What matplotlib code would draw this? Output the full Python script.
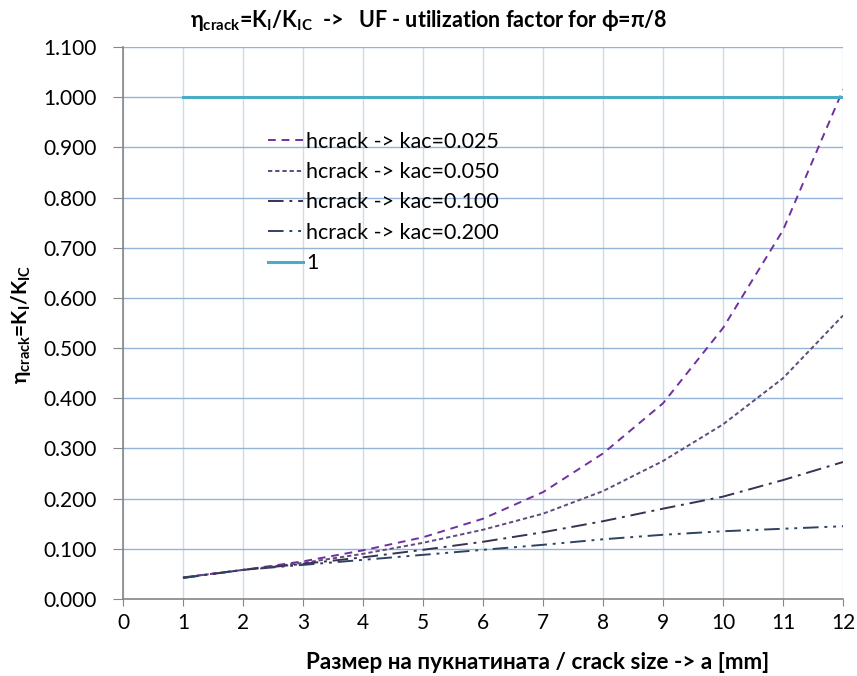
import matplotlib
matplotlib.use('Agg')
import matplotlib.pyplot as plt
import numpy as np

plt.rcParams['font.family'] = ['Lato', 'Open Sans', 'DejaVu Sans']
plt.rcParams['mathtext.fontset'] = 'custom'
plt.rcParams['mathtext.rm'] = 'Lato'
plt.rcParams['mathtext.it'] = 'Lato:italic'
plt.rcParams['mathtext.bf'] = 'Lato:bold'

crack_size = [1, 2, 3, 4, 5, 6, 7, 8, 9, 10, 11, 12]
kac_025 = [0.043, 0.058, 0.075, 0.097, 0.123, 0.160, 0.213, 0.290, 0.390, 0.540, 0.735, 1.015]
kac_050 = [0.043, 0.058, 0.072, 0.090, 0.112, 0.138, 0.170, 0.215, 0.275, 0.348, 0.440, 0.565]
kac_100 = [0.042, 0.058, 0.070, 0.083, 0.098, 0.114, 0.133, 0.155, 0.180, 0.204, 0.237, 0.273]
kac_200 = [0.042, 0.058, 0.068, 0.078, 0.088, 0.098, 0.108, 0.119, 0.128, 0.135, 0.140, 0.145]
limit = [1.0] * 12

fig = plt.figure(figsize=(8.57, 6.76), dpi=100)
ax = fig.add_axes([0.1435, 0.1139, 0.8402, 0.8166])

ax.plot(crack_size, kac_025, color='#7030A0', lw=1.4, dashes=(4, 3), label='hcrack -> kac=0.025')
ax.plot(crack_size, kac_050, color='#604A7B', lw=1.4, dashes=(2.2, 1.5), label='hcrack -> kac=0.050')
ax.plot(crack_size, kac_100, color='#3B3050', lw=1.4, dashes=(8, 3, 1.5, 3), label='hcrack -> kac=0.100')
ax.plot(crack_size, kac_200, color='#2E4262', lw=1.4, dashes=(8, 3, 1.5, 3, 1.5, 3), label='hcrack -> kac=0.200')
ax.plot(crack_size, limit, color='#4BACC6', lw=2.2, label='1')

ax.set_xlim(0, 12)
ax.set_ylim(0, 1.1)
ax.set_xticks(range(0, 13))
ax.set_yticks(np.arange(0, 1.101, 0.1))
ax.set_yticklabels([f'{v:.3f}' for v in np.arange(0, 1.101, 0.1)])
ax.tick_params(axis='both', labelsize=15, colors='#000000')
ax.tick_params(axis='x', direction='out', length=5, color='#868686', pad=5)
ax.tick_params(axis='y', direction='out', length=7, color='#868686', pad=12)

ax.yaxis.grid(True, color='#95B3D7', lw=1)
ax.xaxis.grid(True, color='#C8DFEA', lw=1)
ax.set_axisbelow(True)
for side in ['top', 'right']:
    ax.spines[side].set_visible(False)
for side in ['left', 'bottom']:
    ax.spines[side].set_color('#868686')
    ax.spines[side].set_linewidth(1.2)

fig.text(0.627, 0.02, 'Размер на пукнатината / crack size -> a [mm]', ha='center', va='center',
         fontsize=16.2, fontweight='bold')
fig.text(0.025, 0.52, r'$\mathbf{\eta_{crack}}$=K$_\mathbf{I}$/K$_\mathbf{IC}$', rotation=90,
         ha='center', va='center', fontsize=15, fontweight='bold')
fig.text(0.5, 0.970, r'$\mathbf{\eta_{crack}}$=K$_\mathbf{I}$/K$_\mathbf{IC}$  ->   UF - utilization factor for $\mathbf{\phi}$=$\mathbf{\pi}$/8',
         ha='center', va='center', fontsize=15.5, fontweight='bold')

leg = ax.legend(loc='upper left', bbox_to_anchor=(0.19, 0.862), frameon=False, fontsize=15.5,
                handlelength=1.6, handletextpad=0.15, labelspacing=0.48, borderaxespad=0)

fig.savefig('out.png', dpi=100, facecolor='white')
